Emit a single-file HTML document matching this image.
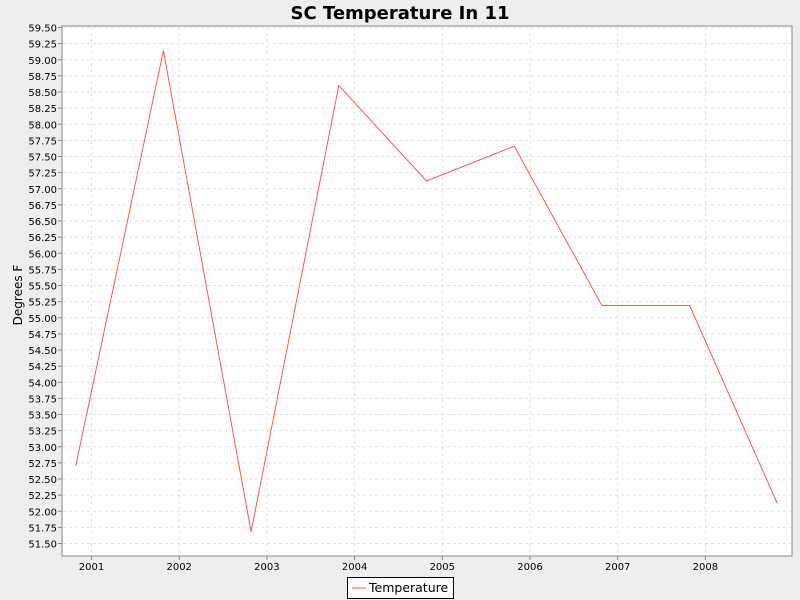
<!DOCTYPE html>
<html><head><meta charset="utf-8"><style>
body{margin:0;background:#eeeeee;font-family:"Liberation Sans","DejaVu Sans",sans-serif}
svg{display:block}
</style></head><body>
<svg id="c" width="800" height="600" xmlns="http://www.w3.org/2000/svg">
<rect x="0" y="0" width="800" height="600" fill="#eeeeee"/>
<text x="400" y="19" text-anchor="middle" font-size="18" font-weight="bold" font-family="DejaVu Sans, sans-serif">SC Temperature In 11</text>
<rect x="62" y="26" width="730" height="530" fill="#ffffff" stroke="#888"/>
<g id="grid"></g><g id="yt"></g><g id="xt"></g><g id="ser"></g>
<text transform="translate(22,295) rotate(-90)" text-anchor="middle" font-size="12" font-family="DejaVu Sans, sans-serif">Degrees F</text>
<g>
<rect x="347.5" y="577.5" width="106" height="21" fill="#fff" stroke="#000"/>
<line x1="352" y1="588" x2="366" y2="588" stroke="#ff5555"/>
<text x="369" y="592" font-size="12.5" font-family="DejaVu Sans, sans-serif">Temperature</text>
</g>
</svg>
<script>
const years=[2001,2002,2003,2004,2005,2006,2007,2008];
const xValues=[2000.82,2001.82,2002.82,2003.82,2004.82,2005.82,2006.82,2007.82,2008.82];
const temps=[52.7,59.14,51.68,58.6,57.12,57.66,55.19,55.19,52.12];
const yTicks=[];for(let v=51.5;v<=59.5001;v+=0.25)yTicks.push(+v.toFixed(2));
const NS="http://www.w3.org/2000/svg";
const xs=v=>91.5+(v-2001)*87.7;
const ys=v=>543.5-(v-51.5)*64.5;
function mk(t,a,p){const e=document.createElementNS(NS,t);for(const k in a)e.setAttribute(k,a[k]);p.appendChild(e);return e;}
const g=document.getElementById('grid'),yt=document.getElementById('yt'),xt=document.getElementById('xt'),s=document.getElementById('ser');
yTicks.forEach(v=>{const y=ys(v);
const l=mk('line',{x1:63,x2:791,y1:y,y2:y,stroke:'#e2e2e2','stroke-dasharray':'3,3'},g);


mk('line',{x1:58,x2:62,y1:y,y2:y,stroke:'#888'},yt);
const t=mk('text',{x:57,y:y+4,'text-anchor':'end','font-size':'10','font-family':'DejaVu Sans, sans-serif'},yt);t.textContent=v.toFixed(2);

});
years.forEach(v=>{const x=xs(v);
const l=mk('line',{x1:x,x2:x,y1:27,y2:555,stroke:'#e2e2e2','stroke-dasharray':'3,3'},g);


mk('line',{x1:x,x2:x,y1:556,y2:560,stroke:'#888'},xt);
const t=mk('text',{x:x,y:570,'text-anchor':'middle','font-size':'10','font-family':'DejaVu Sans, sans-serif'},xt);t.textContent=v;

});
const p=mk('polyline',{points:xValues.map((x,i)=>xs(x)+','+ys(temps[i])).join(' '),fill:'none',stroke:'#ff5555','stroke-width':1},s);


</script>
</body></html>
